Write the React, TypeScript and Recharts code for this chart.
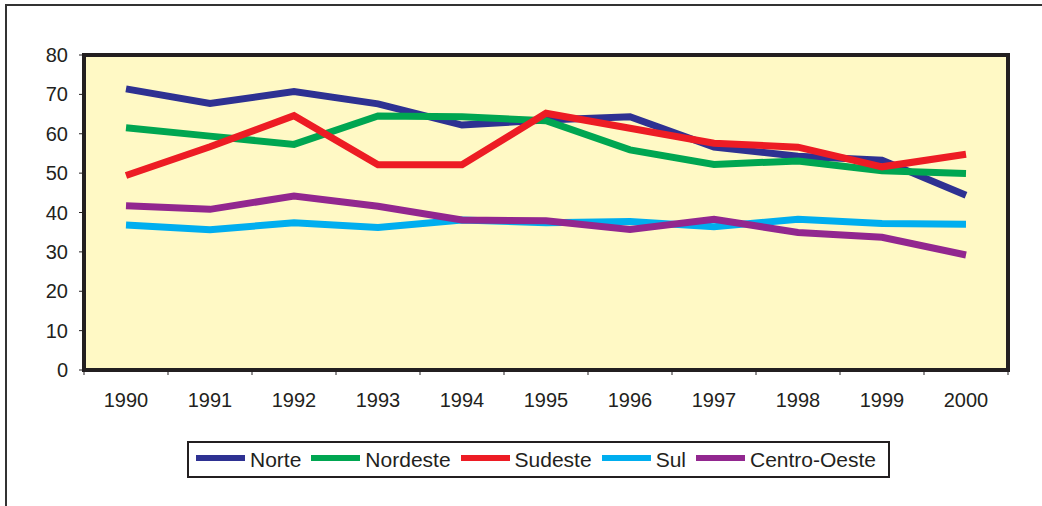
import { LineChart, Line, XAxis, YAxis, ReferenceArea } from 'recharts';

const years = ['1990', '1991', '1992', '1993', '1994', '1995', '1996', '1997', '1998', '1999', '2000'];

const norte = [71.4, 67.7, 70.7, 67.6, 62.2, 63.5, 64.3, 56.6, 54.3, 53.3, 44.4];
const nordeste = [61.5, 59.4, 57.3, 64.5, 64.3, 63.3, 55.9, 52.2, 53.1, 50.6, 49.9];
const sudeste = [49.4, 56.7, 64.6, 52.1, 52.1, 65.2, 61.4, 57.6, 56.6, 51.6, 54.8];
const sul = [36.8, 35.6, 37.4, 36.2, 38.1, 37.4, 37.7, 36.4, 38.3, 37.2, 37.0];
const centroOeste = [41.7, 40.8, 44.2, 41.6, 38.1, 37.9, 35.7, 38.3, 34.9, 33.7, 29.2];

const yTicks = [0, 10, 20, 30, 40, 50, 60, 70, 80];

const series = [
  { name: 'Norte', values: norte, color: '#2E3192' },
  { name: 'Nordeste', values: nordeste, color: '#00A651' },
  { name: 'Sudeste', values: sudeste, color: '#ED1C24' },
  { name: 'Sul', values: sul, color: '#00AEEF' },
  { name: 'Centro-Oeste', values: centroOeste, color: '#92278F' },
];

const data = years.map((year, i) => {
  const row: Record<string, number | string> = { i, year };
  series.forEach((s) => {
    row[s.name] = s.values[i];
  });
  return row;
});

// labels sit on whole indexes, tick marks on the band edges (Excel style)
const xTicks: number[] = [];
for (let k = -1; k <= 2 * years.length - 1; k++) xTicks.push(k / 2);

const FONT = '"Liberation Sans", Arial, sans-serif';
const INK = '#231F20';

const YearTick = ({ x, y, payload }: any) => {
  const v = payload.value;
  if (Number.isInteger(v)) {
    return (
      <text x={x} y={y + 23} dy="0.71em" textAnchor="middle" fill={INK} fontSize={20} fontFamily={FONT}>
        {years[v]}
      </text>
    );
  }
  return <line x1={x} x2={x} y1={y} y2={y + 5} stroke={INK} strokeWidth={1} />;
};

export default function App() {
  return (
    <div
      style={{
        position: 'fixed',
        left: 0,
        top: 0,
        width: 1042,
        height: 506,
        overflow: 'hidden',
        background: '#fff',
        fontFamily: FONT,
      }}
    >
      {/* outer frame, only top and left edges are visible */}
      <div
        style={{
          position: 'absolute',
          left: 5,
          top: 4,
          width: 1100,
          height: 600,
          borderTop: '2px solid #333',
          borderLeft: '2px solid #333',
        }}
      />

      <div style={{ position: 'absolute', left: 0, top: 0 }}>
        <LineChart width={1042} height={506} data={data} margin={{ top: 55, right: 34, left: 0, bottom: 96 }}>
          <XAxis
            dataKey="i"
            type="number"
            domain={[-0.5, years.length - 0.5]}
            ticks={xTicks}
            interval={0}
            tickSize={0}
            tickMargin={0}
            axisLine={false}
            tickLine={false}
            tick={<YearTick />}
            height={40}
          />
          <YAxis
            type="number"
            domain={[0, 80]}
            ticks={yTicks}
            interval={0}
            width={84}
            axisLine={false}
            tickSize={5}
            tickMargin={11}
            tickLine={{ stroke: INK, strokeWidth: 1 }}
            tick={{ fill: INK, fontSize: 20, fontFamily: FONT }}
          />
          <ReferenceArea
            x1={-0.5}
            x2={years.length - 0.5}
            y1={0}
            y2={80}
            fill="#FFF9C5"
            fillOpacity={1}
            stroke={INK}
            strokeWidth={4}
            ifOverflow="visible"
          />
          {series.map((s) => (
            <Line
              key={s.name}
              dataKey={s.name}
              stroke={s.color}
              strokeWidth={7}
              dot={false}
              activeDot={false}
              isAnimationActive={false}
            />
          ))}
        </LineChart>
      </div>

      {/* legend */}
      <div
        style={{
          position: 'absolute',
          left: 187,
          top: 441,
          width: 703,
          height: 37,
          boxSizing: 'border-box',
          border: `2px solid ${INK}`,
          display: 'flex',
          alignItems: 'center',
          paddingLeft: 7,
          background: '#fff',
          whiteSpace: 'nowrap',
        }}
      >
        {series.map((s) => (
          <div key={s.name} style={{ display: 'flex', alignItems: 'center', marginRight: 10, flexShrink: 0 }}>
            <div style={{ width: 49, height: 6, background: s.color, marginRight: 5, marginTop: -3 }} />
            <span style={{ fontSize: 21, color: INK, lineHeight: '24px' }}>{s.name}</span>
          </div>
        ))}
      </div>
    </div>
  );
}
